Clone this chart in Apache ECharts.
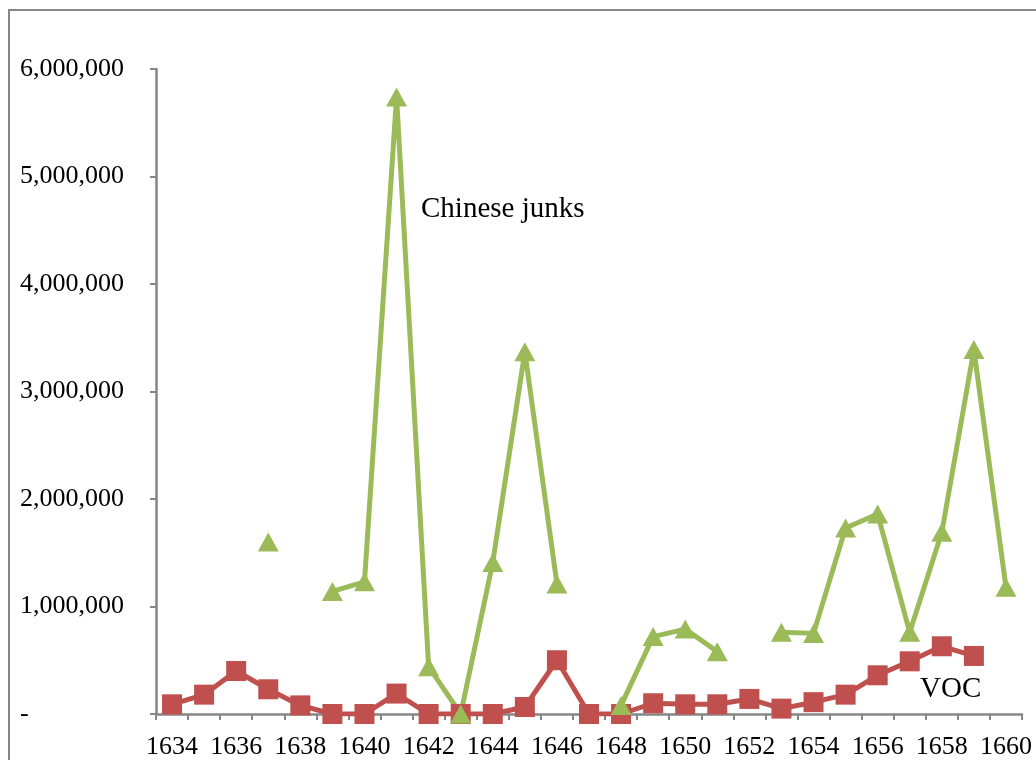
<!DOCTYPE html>
<html>
<head>
<meta charset="utf-8">
<script src="https://cdn.jsdelivr.net/npm/echarts@6/dist/echarts.min.js"></script>
<style>html,body{margin:0;padding:0;background:#fff}#c{width:1036px;height:760px}</style>
</head>
<body>
<div id="c"></div>
<script>
const years = ['1634','1635','1636','1637','1638','1639','1640','1641','1642','1643','1644','1645','1646','1647','1648','1649','1650','1651','1652','1653','1654','1655','1656','1657','1658','1659','1660'];
const vocValues = [90000,180000,400000,230000,80000,0,0,190000,0,0,0,65000,500000,0,0,100000,90000,90000,140000,50000,110000,180000,360000,490000,630000,540000,null];
const junkValues = [null,null,null,1600000,null,1140000,1230000,5740000,440000,0,1410000,3370000,1210000,null,80000,720000,790000,580000,null,760000,750000,1730000,1860000,760000,1690000,3390000,1180000];
const yTicks = {min:0, max:6000000, interval:1000000};
const seriesNames = ['VOC','Chinese junks'];

const chart = echarts.init(document.getElementById('c'));
const font = 'Liberation Serif';
const axisGrey = '#868686';
chart.setOption({
  animation:false,
  backgroundColor:'#fff',
  graphic:[{type:'rect',shape:{x:9,y:10,width:1200,height:900},style:{fill:'none',stroke:axisGrey,lineWidth:2},silent:true,z:-1},
    {type:'text',left:421,top:195,style:{text:'Chinese junks',font:'29px "Liberation Serif"',fill:'#000'}},
    {type:'text',left:920,top:675,style:{text:'VOC',font:'29px "Liberation Serif"',fill:'#000'}}],
  grid:{left:156,right:14,top:69,bottom:45,containLabel:false},
  xAxis:{type:'category',data:years,boundaryGap:true,
    axisLine:{lineStyle:{color:axisGrey,width:2.5}},
    axisTick:{show:true,interval:0,length:6,lineStyle:{color:axisGrey,width:2}},
    axisLabel:{interval:1,margin:20,fontFamily:font,fontSize:26,color:'#000'},
    splitLine:{show:false}},
  yAxis:{type:'value',min:yTicks.min,max:yTicks.max,interval:yTicks.interval,
    axisLine:{show:true,lineStyle:{color:axisGrey,width:2.5}},
    axisTick:{show:true,length:6,lineStyle:{color:axisGrey,width:2}},
    splitLine:{show:false},
    axisLabel:{align:'left',margin:136,fontFamily:font,fontSize:26,color:'#000',
      formatter:v=> v===0 ? '-' : v.toLocaleString('en-US')}},
  series:[
    {name:seriesNames[0],type:'line',data:vocValues,connectNulls:false,
     symbol:'rect',symbolSize:20,showAllSymbol:true,
     lineStyle:{color:'#C0504D',width:5},itemStyle:{color:'#C0504D'}},
    {name:seriesNames[1],type:'line',data:junkValues,connectNulls:false,
     symbol:'triangle',symbolSize:[21,19],showAllSymbol:true,
     lineStyle:{color:'#9BBB59',width:5},itemStyle:{color:'#9BBB59'}}
  ]
});
</script>
</body>
</html>
